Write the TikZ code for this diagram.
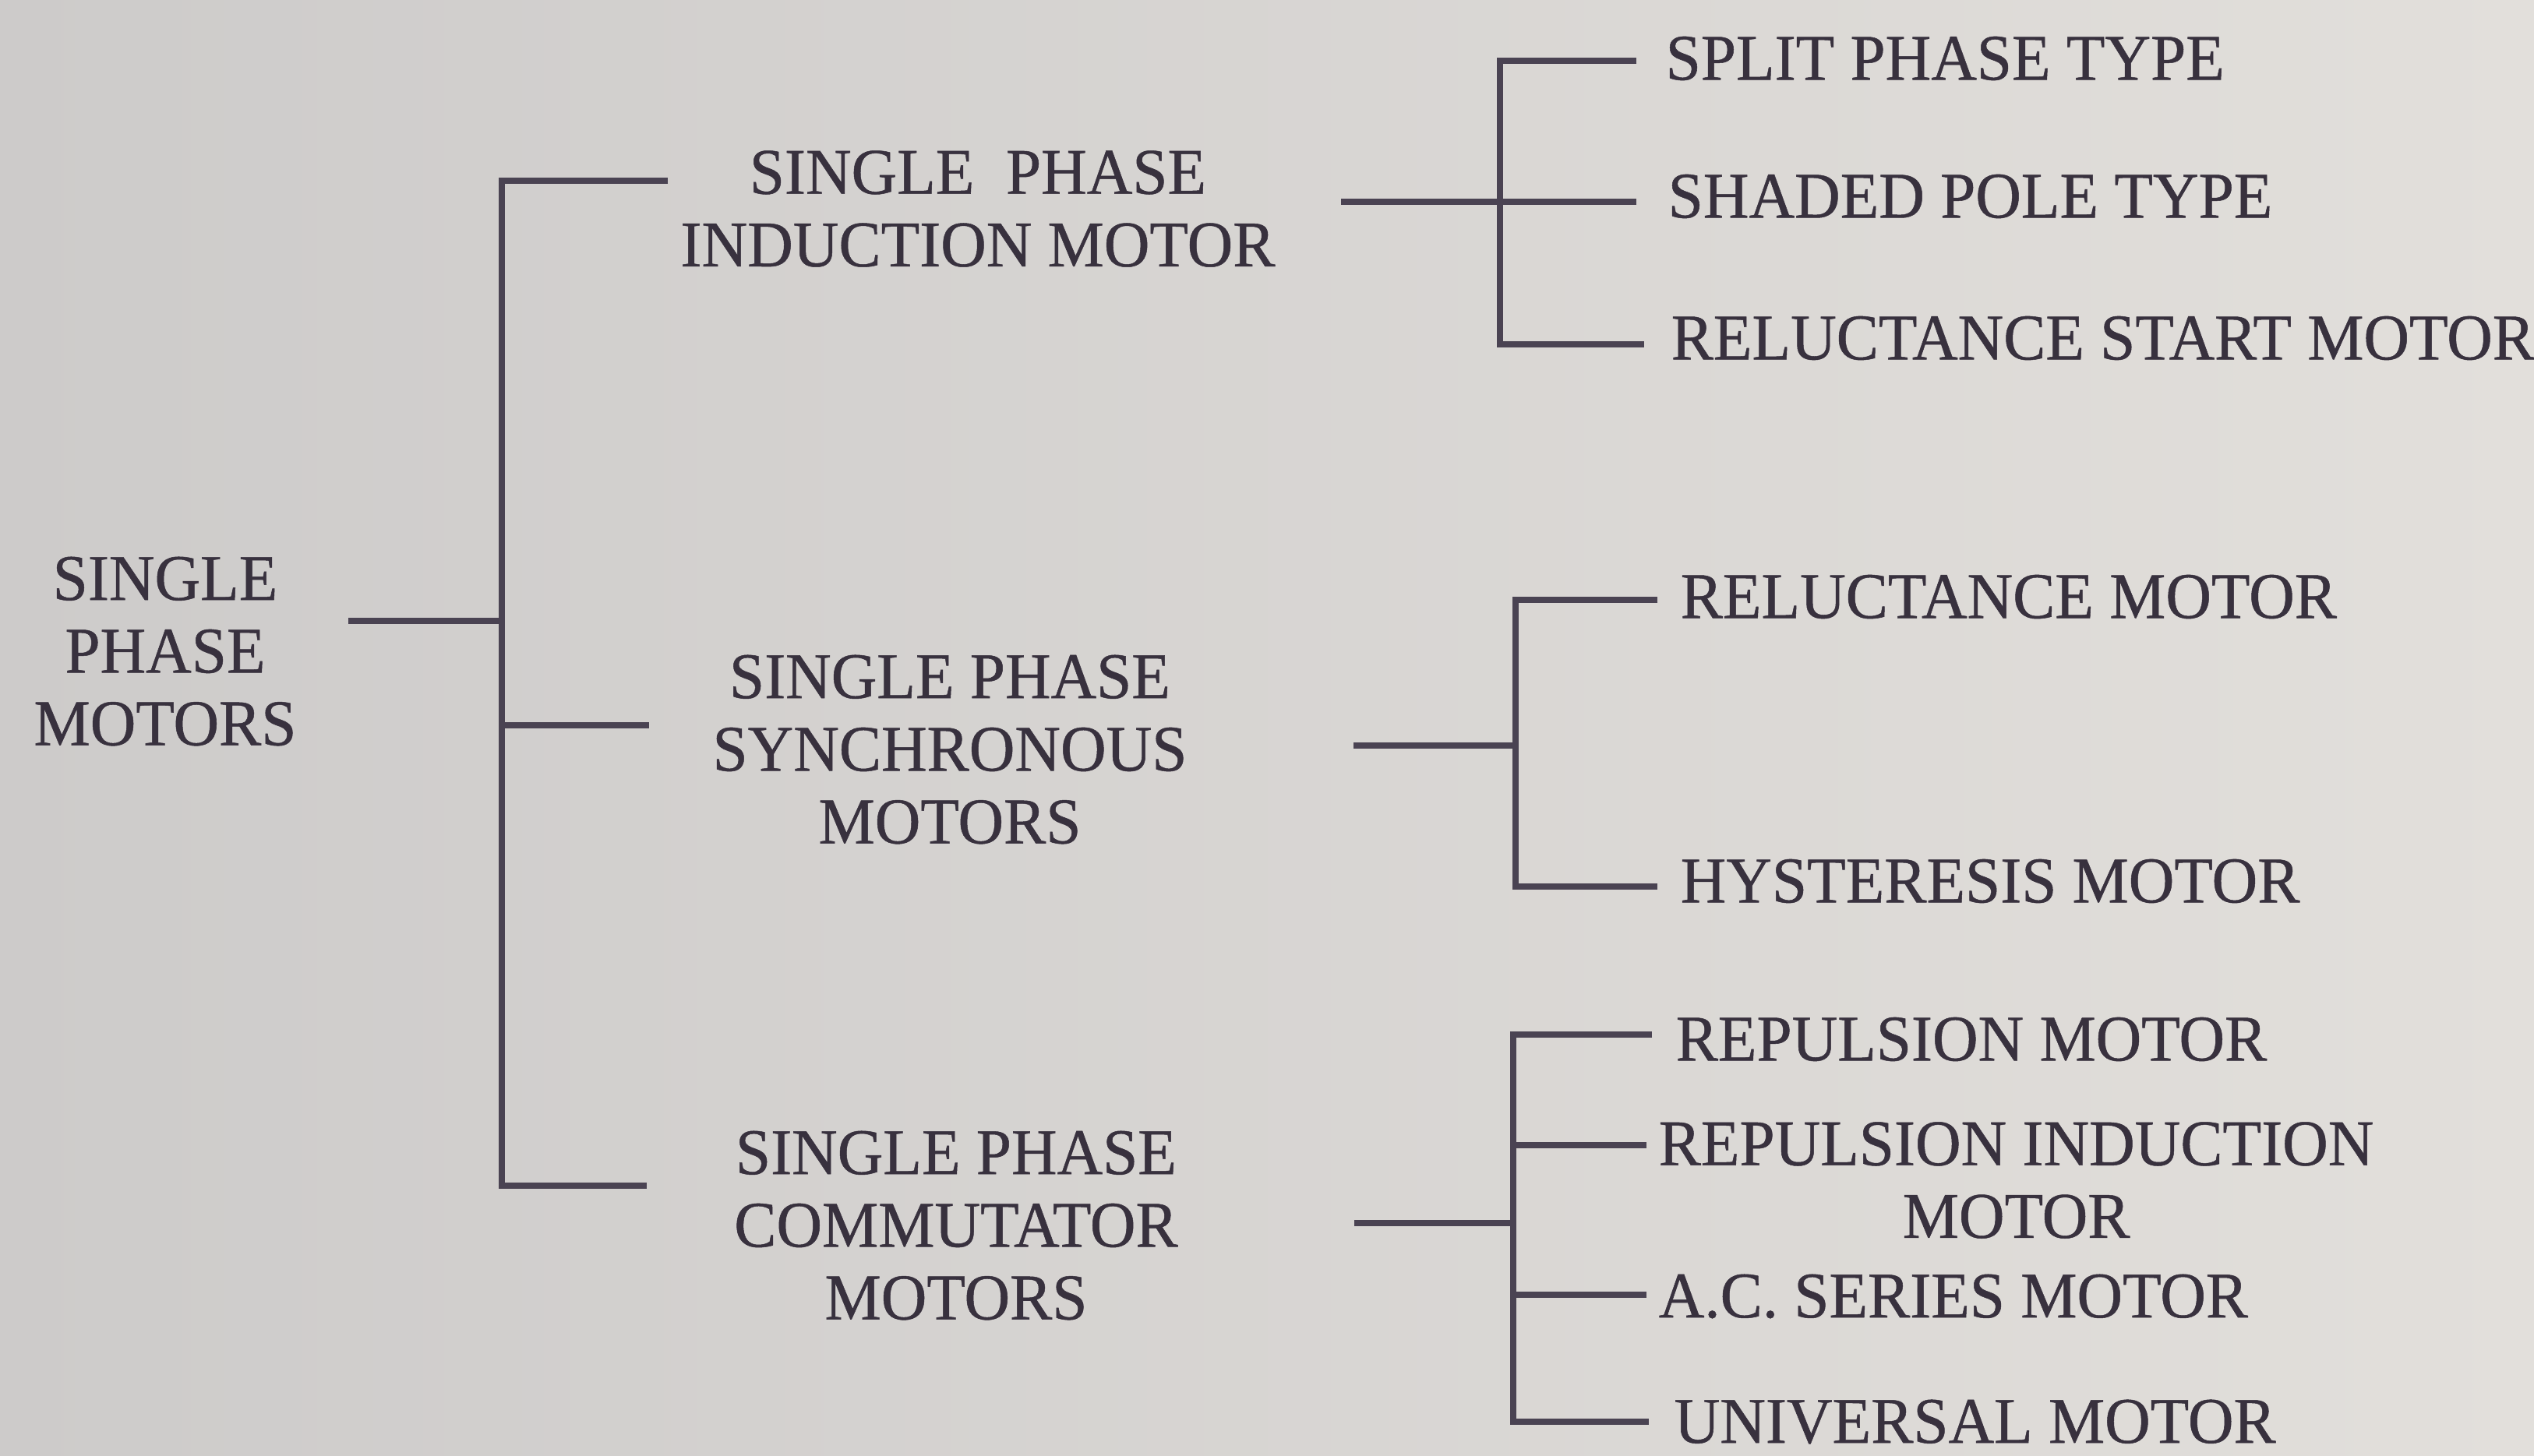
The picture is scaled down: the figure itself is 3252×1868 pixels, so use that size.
\documentclass[tikz,border=0pt]{standalone}
\usepackage{fontspec}
\setmainfont{Liberation Serif}[FakeStretch=0.97,FakeBold=0.6]
\begin{document}
\begin{tikzpicture}[x=0.01cm,y=-0.01cm,
  ink/.style={text=textink},
  lbl/.style={ink,inner sep=0pt,font=\fontsize{23.8}{26.5}\selectfont},
  leaf/.style={lbl,anchor=west},
  group/.style={lbl,align=center},
  conn/.style={draw=lineink,line width=2.5pt,line join=miter}]
\definecolor{textink}{HTML}{38313E}
\definecolor{lineink}{HTML}{4A4352}
\definecolor{paperL}{HTML}{CDCBCA}
\definecolor{paperR}{HTML}{E2DFDB}

% paper
\shade[left color=paperL,right color=paperR] (0,0) rectangle (3252,1868);
\useasboundingbox (0,0) rectangle (3252,1868);

% root and first level
\node[group] (root) at (212,836) {SINGLE\\PHASE\\MOTORS};
\node[group] (ind) at (1255,268) {SINGLE\ \ PHASE\\INDUCTION MOTOR};
\node[group] (syn) at (1219,962) {SINGLE PHASE\\SYNCHRONOUS\\MOTORS};
\node[group] (com) at (1227,1573) {SINGLE PHASE\\COMMUTATOR\\MOTORS};

% induction motor types
\node[leaf] (split)  at (2137,75)  {SPLIT PHASE TYPE};
\node[leaf] (shaded) at (2140,252) {SHADED POLE TYPE};
\node[leaf] (rstart) at (2144,434) {RELUCTANCE START MOTOR};

% synchronous motor types
\node[leaf] (reluct) at (2156,766)  {RELUCTANCE MOTOR};
\node[leaf] (hyst)   at (2156,1131) {HYSTERESIS MOTOR};

% commutator motor types
\node[leaf] (repul)  at (2150,1334) {REPULSION MOTOR};
\node[leaf,align=center] (repind) at (2128,1515) {REPULSION INDUCTION\\MOTOR};
\node[leaf] (acser)  at (2128,1664) {A.C. SERIES MOTOR};
\node[leaf] (univ)   at (2148,1825) {UNIVERSAL MOTOR};

% junction points
\coordinate (rootOut) at (447,797);
\coordinate (rootJ) at (644,797);
\coordinate (tTop) at (644,232);
\coordinate (tMid) at (644,931);
\coordinate (tBot) at (644,1522);
\coordinate (indIn) at (857,232);
\coordinate (synIn) at (833,931);
\coordinate (comIn) at (830,1522);

\coordinate (aOut) at (1721,259);
\coordinate (aJ) at (1925,259);
\coordinate (aTop) at (1925,78);
\coordinate (aBot) at (1925,442);
\coordinate (aE1) at (2100,78);
\coordinate (aE2) at (2100,259);
\coordinate (aE3) at (2110,442);

\coordinate (bOut) at (1737,957);
\coordinate (bJ) at (1945,957);
\coordinate (bTop) at (1945,770);
\coordinate (bBot) at (1945,1138);
\coordinate (bE1) at (2127,770);
\coordinate (bE2) at (2127,1138);

\coordinate (cOut) at (1738,1570);
\coordinate (cJ) at (1942,1570);
\coordinate (cTop) at (1942,1328);
\coordinate (cBot) at (1942,1825);
\coordinate (cE1) at (2120,1328);
\coordinate (cE2) at (2113,1470);
\coordinate (cE3) at (2113,1662);
\coordinate (cE4) at (2116,1825);

% main trunk
\draw[conn] (rootOut) -- (rootJ);
\draw[conn] (indIn) -- (tTop) -- (tBot) -- (comIn);
\draw[conn] (tMid) -- (synIn);

% induction branch
\draw[conn] (aOut) -- (aJ);
\draw[conn] (aE1) -- (aTop) -- (aBot) -- (aE3);
\draw[conn] (aJ) -- (aE2);

% synchronous branch
\draw[conn] (bOut) -- (bJ);
\draw[conn] (bE1) -- (bTop) -- (bBot) -- (bE2);

% commutator branch
\draw[conn] (cOut) -- (cJ);
\draw[conn] (cE1) -- (cTop) -- (cBot) -- (cE4);
\draw[conn] (cTop |- cE2) -- (cE2);
\draw[conn] (cTop |- cE3) -- (cE3);
\end{tikzpicture}
\end{document}
